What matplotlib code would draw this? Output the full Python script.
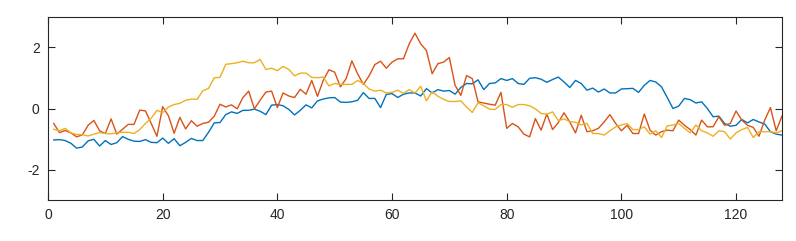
import numpy as np
import matplotlib
matplotlib.use("Agg")
import matplotlib.pyplot as plt

x = np.arange(1, 129)

blue = [-1.03, -1.02, -1.05, -1.14, -1.30, -1.26, -1.06, -1.01, -1.23, -1.05,
        -1.18, -1.12, -0.92, -1.01, -1.07, -1.08, -1.02, -1.11, -1.12, -0.97,
        -1.14, -0.99, -1.22, -1.11, -0.98, -1.05, -1.05, -0.78, -0.47, -0.46,
        -0.20, -0.11, -0.16, -0.06, -0.06, -0.02, -0.09, -0.20, 0.11, 0.13,
        0.09, -0.03, -0.21, -0.06, 0.12, 0.02, 0.25, 0.31, 0.35, 0.36,
        0.21, 0.20, 0.22, 0.27, 0.52, 0.33, 0.33, 0.03, 0.46, 0.49,
        0.36, 0.47, 0.51, 0.51, 0.41, 0.65, 0.51, 0.62, 0.57, 0.59,
        0.47, 0.69, 0.82, 0.81, 0.94, 0.62, 0.82, 0.84, 0.98, 0.92,
        0.98, 0.82, 0.79, 0.99, 1.01, 0.96, 0.86, 0.95, 1.03, 0.87,
        0.69, 0.92, 0.82, 0.60, 0.67, 0.54, 0.64, 0.51, 0.51, 0.64,
        0.65, 0.66, 0.53, 0.76, 0.92, 0.87, 0.71, 0.36, 0.00, 0.08,
        0.33, 0.29, 0.18, 0.22, 0.00, -0.27, -0.25, -0.49, -0.58, -0.55,
        -0.36, -0.47, -0.36, -0.44, -0.51, -0.76, -0.84, -0.87]

orange = [-0.49, -0.79, -0.72, -0.80, -0.93, -0.86, -0.55, -0.39, -0.73, -0.82,
          -0.34, -0.84, -0.68, -0.52, -0.52, -0.05, -0.08, -0.49, -0.91, 0.06,
          -0.24, -0.81, -0.29, -0.67, -0.40, -0.58, -0.49, -0.45, -0.25, 0.14,
          0.05, 0.12, -0.01, 0.36, 0.57, -0.01, 0.27, 0.54, 0.57, 0.03,
          0.51, 0.41, 0.36, 0.63, 0.47, 0.92, 0.40, 0.92, 1.27, 1.19,
          0.71, 0.98, 1.56, 1.14, 0.79, 1.07, 1.44, 1.55, 1.32, 1.52,
          1.63, 1.63, 2.12, 2.47, 2.12, 1.90, 1.14, 1.47, 1.52, 1.67,
          0.76, 0.43, 1.08, 0.98, 0.22, 0.18, 0.14, 0.11, 0.53, -0.65,
          -0.49, -0.60, -0.84, -0.93, -0.33, -0.71, -0.18, -0.69, -0.46, -0.14,
          -0.44, -0.80, -0.22, -0.76, -0.73, -0.65, -0.44, -0.20, -0.49, -0.73,
          -0.55, -0.82, -0.82, -0.18, -0.71, -0.87, -0.76, -0.71, -0.73, -0.38,
          -0.55, -0.69, -0.87, -0.38, -0.60, -0.60, -0.27, -0.55, -0.49, -0.08,
          -0.38, -0.55, -0.62, -0.91, -0.38, 0.03, -0.73, -0.25]

yellow = [-0.68, -0.73, -0.65, -0.80, -0.85, -0.86, -0.90, -0.84, -0.79, -0.82,
          -0.83, -0.80, -0.78, -0.78, -0.82, -0.69, -0.49, -0.32, -0.06, -0.14,
          0.05, 0.13, 0.17, 0.27, 0.31, 0.30, 0.58, 0.66, 1.01, 1.02,
          1.45, 1.47, 1.50, 1.55, 1.50, 1.50, 1.61, 1.28, 1.32, 1.24,
          1.38, 1.28, 1.07, 1.16, 1.16, 1.02, 1.01, 1.03, 0.74, 0.82,
          0.79, 0.79, 0.79, 0.92, 0.82, 0.64, 0.57, 0.60, 0.51, 0.53,
          0.60, 0.50, 0.62, 0.51, 0.73, 0.25, 0.55, 0.40, 0.30, 0.23,
          0.23, 0.25, 0.05, -0.13, 0.19, 0.09, -0.02, -0.03, 0.13, 0.13,
          0.04, 0.13, 0.13, 0.09, -0.01, -0.16, -0.19, -0.11, -0.40, -0.34,
          -0.43, -0.45, -0.54, -0.49, -0.82, -0.82, -0.87, -0.73, -0.60, -0.54,
          -0.49, -0.69, -0.69, -0.60, -0.84, -0.73, -0.95, -0.57, -0.54, -0.49,
          -0.65, -0.80, -0.54, -0.73, -0.80, -0.91, -0.73, -0.76, -1.00, -0.80,
          -0.69, -0.62, -0.95, -0.76, -0.76, -0.76, -0.80, -0.73]

xticks = [0, 20, 40, 60, 80, 100, 120]
yticks = [-2, 0, 2]

plt.rcParams['font.family'] = ['Liberation Sans', 'DejaVu Sans']

fig = plt.figure(figsize=(7.96, 2.41), dpi=100)
ax = fig.add_axes([0.0603, 0.170, 0.922, 0.7595])

ax.plot(x, blue, color='#0072BD', lw=1.0)
ax.plot(x, orange, color='#D95319', lw=1.0)
ax.plot(x, yellow, color='#EDB120', lw=1.0)

ax.set_xlim(0, 128)
ax.set_ylim(-3, 3)
ax.set_xticks(xticks)
ax.set_yticks(yticks)
ax.set_xticklabels([str(t) for t in xticks])
ax.set_yticklabels([str(t) for t in yticks])

axc = '#262626'
for s in ax.spines.values():
    s.set_color(axc)
    s.set_linewidth(0.8)
ax.tick_params(direction='in', length=5, width=0.8, colors=axc,
               labelsize=10, top=True, right=True, pad=6)

fig.savefig('out.png', dpi=100)
